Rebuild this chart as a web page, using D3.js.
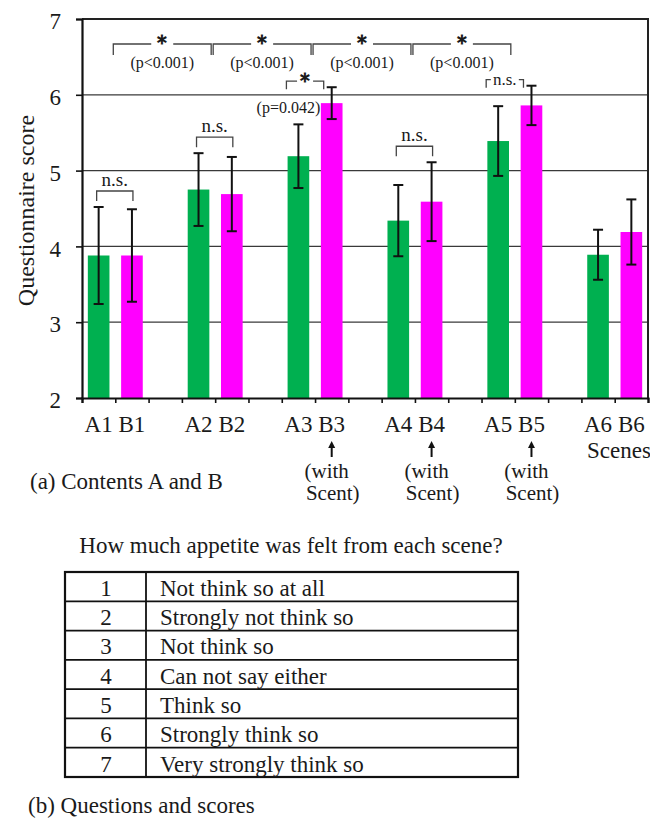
<!DOCTYPE html>
<html>
<head>
<meta charset="utf-8">
<script src="https://cdn.jsdelivr.net/npm/d3@7"></script>
<style>
  body { margin: 0; background: #fff; }
  svg { display: block; }
  text { font-family: "Liberation Serif", "Times New Roman", serif; fill: #1a1a1a; }
</style>
</head>
<body>
<script>
// Questionnaire scores per scene: content A (green) and content B (magenta)
const labelsA = ["A1", "A2", "A3", "A4", "A5", "A6"];
const labelsB = ["B1", "B2", "B3", "B4", "B5", "B6"];
const meansA  = [3.88, 4.75, 5.19, 4.34, 5.39, 3.89];
const errA    = [0.64, 0.48, 0.42, 0.47, 0.46, 0.33];
const meansB  = [3.88, 4.69, 5.89, 4.59, 5.86, 4.19];
const errB    = [0.61, 0.49, 0.21, 0.52, 0.26, 0.43];
const withScent = [false, false, true, true, true, false];
const yTicks = [2, 3, 4, 5, 6, 7];

// significance between A and B within a scene
const withinMark   = ["n.s.", "n.s.", "*", "n.s.", "n.s.", null];
const withinP      = [null, null, "(p=0.042)", null, null, null];
const withinInline = [false, false, true, false, true, false];
// significance between neighbouring scenes
const betweenMark = ["*", "*", "*", "*"];
const betweenP    = ["(p<0.001)", "(p<0.001)", "(p<0.001)", "(p<0.001)"];

// score legend table
const scoreValues = [1, 2, 3, 4, 5, 6, 7];
const scoreTexts = [
  "Not think so at all",
  "Strongly not think so",
  "Not think so",
  "Can not say either",
  "Think so",
  "Strongly think so",
  "Very strongly think so"
];

const W = 650, H = 819;
const plot = { left: 82, right: 648, top: 19, bottom: 398 };
const GREEN = "#00b050", MAGENTA = "#ff00ff";

const svg = d3.select("body").append("svg").attr("width", W).attr("height", H);

const nSlots = labelsA.length * 3 - 1;
const x = d3.scaleBand().domain(d3.range(nSlots))
  .range([plot.left, plot.right]).paddingInner(0.35).paddingOuter(0.175);
const xEdge = d3.scaleLinear().domain([0, nSlots]).range([plot.left, plot.right]);
const y = d3.scaleLinear().domain([2, 7]).range([plot.bottom, plot.top]);
const bw = x.bandwidth();
const cx = s => x(s) + bw / 2;

const bars = [];
labelsA.forEach((_, i) => {
  bars.push({ slot: 3 * i, label: labelsA[i], v: meansA[i], e: errA[i], color: GREEN, scent: false });
  bars.push({ slot: 3 * i + 1, label: labelsB[i], v: meansB[i], e: errB[i], color: MAGENTA, scent: withScent[i] });
});

// horizontal grid lines
svg.append("g").selectAll("line").data(yTicks.filter(t => t > 2 && t < 7)).join("line")
  .attr("x1", plot.left).attr("x2", plot.right)
  .attr("y1", d => y(d)).attr("y2", d => y(d))
  .attr("stroke", "#3a3a3a").attr("stroke-width", 1.2);

// bars
svg.append("g").selectAll("rect").data(bars).join("rect")
  .attr("x", d => x(d.slot)).attr("width", bw)
  .attr("y", d => y(d.v)).attr("height", d => y(2) - y(d.v))
  .attr("fill", d => d.color);

// error bars
const eg = svg.append("g").attr("stroke", "#111").attr("stroke-width", 2);
bars.forEach(d => {
  const c = cx(d.slot), t = y(d.v + d.e), b = y(d.v - d.e);
  eg.append("line").attr("x1", c).attr("x2", c).attr("y1", t).attr("y2", b);
  eg.append("line").attr("x1", c - 5).attr("x2", c + 5).attr("y1", t).attr("y2", t);
  eg.append("line").attr("x1", c - 5).attr("x2", c + 5).attr("y1", b).attr("y2", b);
});

// frame (top and right)
svg.append("path")
  .attr("d", `M${plot.left},${plot.top}H${plot.right}V${plot.bottom}`)
  .attr("fill", "none").attr("stroke", "#222").attr("stroke-width", 2);

// axes
const yAxis = svg.append("g").attr("transform", `translate(${plot.left},0)`)
  .call(d3.axisLeft(y).tickValues(yTicks).tickSize(6).tickPadding(15).tickFormat(d3.format("d")));
yAxis.select(".domain").attr("stroke", "#111").attr("stroke-width", 2.2);
yAxis.selectAll(".tick line").attr("stroke", "#111").attr("stroke-width", 1.6);
yAxis.selectAll(".tick text").attr("font-family", "Liberation Serif, serif")
  .attr("font-size", 23).attr("fill", "#1a1a1a").attr("dy", "0.42em");

const xAxis = svg.append("g").attr("transform", `translate(0,${plot.bottom})`)
  .call(d3.axisBottom(xEdge).tickValues(d3.range(nSlots + 1)).tickSize(5).tickFormat(""));
xAxis.select(".domain").attr("stroke", "#111").attr("stroke-width", 2.2);
xAxis.selectAll(".tick line").attr("stroke", "#111").attr("stroke-width", 1.6);

// y axis title
svg.append("text")
  .attr("transform", `translate(34,${(plot.top + plot.bottom) / 2 + 2}) rotate(-90)`)
  .attr("text-anchor", "middle").attr("font-size", 24)
  .text("Questionnaire score");

// bar labels
svg.append("g").selectAll("text").data(bars).join("text")
  .attr("x", d => cx(d.slot)).attr("y", 432)
  .attr("text-anchor", "middle").attr("font-size", 23)
  .text(d => d.label);

// "with scent" arrows and notes
const scentBars = bars.filter(d => d.scent);
const ag = svg.append("g");
scentBars.forEach(d => {
  const c = cx(d.slot);
  ag.append("line").attr("x1", c).attr("x2", c).attr("y1", 457).attr("y2", 446)
    .attr("stroke", "#111").attr("stroke-width", 2);
  ag.append("path").attr("d", `M${c},441L${c - 3.5},448L${c + 3.5},448Z`).attr("fill", "#111");
  ag.append("text").attr("x", c - 5).attr("y", 478).attr("text-anchor", "middle")
    .attr("font-size", 21).text("(with");
  ag.append("text").attr("x", c + 1).attr("y", 500).attr("text-anchor", "middle")
    .attr("font-size", 21).text("Scent)");
});

svg.append("text").attr("x", 587).attr("y", 458).attr("font-size", 23).text("Scenes");
svg.append("text").attr("x", 30).attr("y", 489).attr("font-size", 23).text("(a) Contents A and B");

// bracket helper: legs down from a horizontal line, with an optional gap at the centre
function bracket(g, x1, x2, yTop, yBot, gap) {
  const m = (x1 + x2) / 2;
  const d = gap > 0
    ? `M${x1},${yBot}V${yTop}H${m - gap}M${m + gap},${yTop}H${x2}V${yBot}`
    : `M${x1},${yBot}V${yTop}H${x2}V${yBot}`;
  g.append("path").attr("d", d).attr("fill", "none")
    .attr("stroke", "#444").attr("stroke-width", 1.3);
}
function star(g, xc, yc) {
  const fs = 22;
  g.append("text").attr("x", xc).attr("y", yc + 0.36 * fs).attr("text-anchor", "middle")
    .attr("font-family", "Noto Sans CJK JP").attr("font-size", fs).attr("font-weight", 700)
    .attr("fill", "#222")
    .text("\uFF0A");
}

const sg = svg.append("g");

// between neighbouring scenes
betweenMark.forEach((mk, i) => {
  const x1 = xEdge(3 * i + 1) - 2, x2 = xEdge(3 * (i + 1) + 1) - 4;
  const yTop = 44, yBot = 55;
  bracket(sg, x1, x2, yTop, yBot, 11);
  star(sg, (x1 + x2) / 2, yTop - 2);
  sg.append("text").attr("x", (x1 + x2) / 2).attr("y", 68).attr("text-anchor", "middle")
    .attr("font-size", 16).text(betweenP[i]);
});

// within each scene
withinMark.forEach((mk, i) => {
  if (!mk) return;
  const cA = cx(3 * i), cB = cx(3 * i + 1);
  const top = Math.min(y(meansA[i] + errA[i]), y(meansB[i] + errB[i]));
  if (withinInline[i]) {
    const x1 = cA - 12, x2 = cB - 8;
    const yTop = top - 6, yBot = yTop + 8;
    const gap = mk === "*" ? 8 : 14;
    bracket(sg, x1, x2, yTop, yBot, gap);
    if (mk === "*") star(sg, (x1 + x2) / 2, yTop - 1);
    else sg.append("text").attr("x", (x1 + x2) / 2).attr("y", yTop + 5)
      .attr("text-anchor", "middle").attr("font-size", 17).text(mk);
    if (withinP[i]) sg.append("text").attr("x", cA - 10).attr("y", top + 26)
      .attr("text-anchor", "middle").attr("font-size", 16).text(withinP[i]);
  } else {
    const x1 = cA - 2, x2 = cB + 1;
    const yTop = top - 16, yBot = yTop + 10;
    bracket(sg, x1, x2, yTop, yBot, 0);
    sg.append("text").attr("x", (x1 + x2) / 2).attr("y", yTop - 5)
      .attr("text-anchor", "middle").attr("font-size", 19).text(mk);
  }
});

// (b) question and score table
svg.append("text").attr("x", 291).attr("y", 553).attr("text-anchor", "middle")
  .attr("font-size", 23).text("How much appetite was felt from each scene?");

const table = { left: 65, right: 518, top: 572, bottom: 777, divider: 146 };
const rowY = d3.scaleBand().domain(scoreValues).range([table.top, table.bottom]);
const tg = svg.append("g");
tg.selectAll("line.row").data(scoreValues.slice(1)).join("line").attr("class", "row")
  .attr("x1", table.left).attr("x2", table.right)
  .attr("y1", d => rowY(d)).attr("y2", d => rowY(d))
  .attr("stroke", "#111").attr("stroke-width", 1.8);
tg.append("line").attr("x1", table.divider).attr("x2", table.divider)
  .attr("y1", table.top).attr("y2", table.bottom).attr("stroke", "#111").attr("stroke-width", 1.8);
tg.append("rect").attr("x", table.left).attr("y", table.top)
  .attr("width", table.right - table.left).attr("height", table.bottom - table.top)
  .attr("fill", "none").attr("stroke", "#111").attr("stroke-width", 2.2);
tg.selectAll("text.num").data(scoreValues).join("text").attr("class", "num")
  .attr("x", (table.left + table.divider) / 2 + 0.5).attr("y", d => rowY(d) + rowY.bandwidth() - 5.5)
  .attr("text-anchor", "middle").attr("font-size", 23).text(d => d);
tg.selectAll("text.desc").data(scoreValues).join("text").attr("class", "desc")
  .attr("x", 160).attr("y", d => rowY(d) + rowY.bandwidth() - 5.5)
  .attr("font-size", 23).text((d, i) => scoreTexts[i]);

svg.append("text").attr("x", 28).attr("y", 813).attr("font-size", 23).text("(b) Questions and scores");
</script>
</body>
</html>
